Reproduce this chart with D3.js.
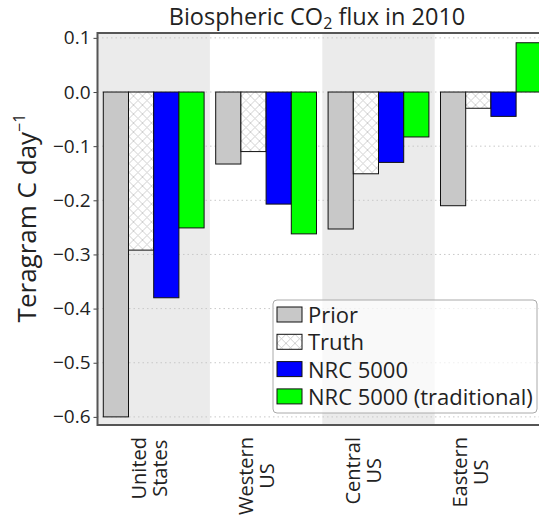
<!DOCTYPE html>
<html>
<head>
<meta charset="utf-8">
<script src="https://cdn.jsdelivr.net/npm/d3@7"></script>
<style>
  body { margin: 0; background: #fff; }
  text { font-family: "Open Sans", sans-serif; fill: #222; }
</style>
</head>
<body>
<div class="chart"></div>
<script>
var svgWidth = 539;
var svgHeight = 519;

// plot box (right side runs past the window, as in the original)
var margin = { top: 33, left: 97.5 };
var width = 449.6;
var height = 392;

// data
var regions = ["United States", "Western US", "Central US", "Eastern US"];
var regionLines = [["United", "States"], ["Western", "US"], ["Central", "US"], ["Eastern", "US"]];
var series = ["Prior", "Truth", "NRC 5000", "NRC 5000 (traditional)"];
var prior = [-0.600, -0.133, -0.253, -0.210];
var truth = [-0.292, -0.110, -0.151, -0.030];
var nrc = [-0.380, -0.207, -0.130, -0.045];
var nrcTrad = [-0.251, -0.262, -0.083, 0.091];
var yTicks = [0.1, 0.0, -0.1, -0.2, -0.3, -0.4, -0.5, -0.6];

var seriesValues = [prior, truth, nrc, nrcTrad];
var fills = ["#c8c8c8", "url(#xhatch)", "#0000ff", "#00ff00"];

var svg = d3.select(".chart")
  .append("svg")
  .attr("width", svgWidth)
  .attr("height", svgHeight);

// crosshatch for the Truth bars
var pat = svg.append("defs").append("pattern")
  .attr("id", "xhatch")
  .attr("patternUnits", "userSpaceOnUse")
  .attr("width", 9)
  .attr("height", 9);
pat.append("rect").attr("width", 9).attr("height", 9).attr("fill", "#fff");
pat.append("path")
  .attr("d", "M0,0L9,9M9,0L0,9")
  .attr("stroke", "#c4c4c4")
  .attr("stroke-width", 0.8);

var chartGroup = svg.append("g")
  .attr("transform", `translate(${margin.left}, ${margin.top})`);

var x0 = d3.scaleBand()
  .domain(regions)
  .range([0, width]);

var x1 = d3.scaleBand()
  .domain(series)
  .range([0, x0.bandwidth()])
  .paddingOuter(0.23);

var yScale = d3.scaleLinear()
  .domain([-0.615, 0.109])
  .range([height, 0]);

// alternating shaded bands
chartGroup.selectAll(".band")
  .data(regions)
  .enter()
  .append("rect")
  .attr("x", d => x0(d))
  .attr("y", 0)
  .attr("width", x0.bandwidth())
  .attr("height", height)
  .attr("fill", (d, i) => i % 2 === 0 ? "#ebebeb" : "none");

// dotted grid
chartGroup.selectAll(".grid")
  .data(yTicks)
  .enter()
  .append("line")
  .attr("x1", 0)
  .attr("x2", width)
  .attr("y1", d => yScale(d))
  .attr("y2", d => yScale(d))
  .attr("stroke", "#c8c8c8")
  .attr("stroke-width", 1)
  .attr("stroke-dasharray", "1.5,3");

// bars
var rows = [];
regions.forEach(function(r, i) {
  series.forEach(function(s, j) {
    rows.push({ region: r, key: s, idx: j, value: seriesValues[j][i] });
  });
});

chartGroup.selectAll(".bar")
  .data(rows)
  .enter()
  .append("rect")
  .attr("x", d => x0(d.region) + x1(d.key))
  .attr("y", d => yScale(Math.max(0, d.value)))
  .attr("width", x1.bandwidth())
  .attr("height", d => Math.abs(yScale(d.value) - yScale(0)))
  .attr("fill", d => fills[d.idx])
  .attr("stroke", "#111")
  .attr("stroke-width", 1);

// y axis
var leftAxis = d3.axisLeft(yScale)
  .tickValues(yTicks)
  .tickSize(4)
  .tickPadding(3)
  .tickFormat(d3.format(".1f"));

var yAxis = chartGroup.append("g").call(leftAxis);
yAxis.select(".domain").remove();
yAxis.selectAll("line").attr("stroke", "#444");
yAxis.selectAll("text")
  .attr("font-size", "19px")
  .attr("font-family", "'Open Sans', sans-serif")
  .attr("fill", "#222");

// frame
chartGroup.append("rect")
  .attr("x", 0)
  .attr("y", 0)
  .attr("width", width)
  .attr("height", height)
  .attr("fill", "none")
  .attr("stroke", "#555")
  .attr("stroke-width", 2);

// x labels: two rotated lines each
var labelX = d3.scaleLinear()
  .domain([0, regions.length - 1])
  .range([x0(regions[0]) + x0.bandwidth() / 2 - 4,
          x0(regions[3]) + x0.bandwidth() / 2 - 20.5]);

regionLines.forEach(function(lines, i) {
  var g = chartGroup.append("g");
  var texts = lines.map(function(t, k) {
    return g.append("text")
      .attr("font-size", "20px")
      .attr("text-anchor", "middle")
      .text(t);
  });
  var maxLen = d3.max(texts, t => t.node().getComputedTextLength());
  var cy = height + 12 + maxLen / 2;
  texts.forEach(function(t, k) {
    var cx = labelX(i) + (k - 0.5) * 21 + 7;
    t.attr("transform", `translate(${cx}, ${cy}) rotate(-90)`);
  });
});

// y label
svg.append("text")
  .attr("transform", "translate(36, 218) rotate(-90)")
  .attr("text-anchor", "middle")
  .attr("font-size", "26px")
  .html("Teragram C day<tspan dy='-11' font-size='16px'>\u22121</tspan>");

// title
svg.append("text")
  .attr("x", 317)
  .attr("y", 25)
  .attr("text-anchor", "middle")
  .attr("font-size", "23.5px")
  .html("Biospheric CO<tspan dy='4' font-size='16px'>2</tspan><tspan dy='-4'> flux in 2010</tspan>");

// legend
var legend = svg.append("g")
  .attr("transform", "translate(273, 300)");

legend.append("rect")
  .attr("width", 264)
  .attr("height", 113)
  .attr("rx", 4)
  .attr("fill", "#fff")
  .attr("fill-opacity", 0.7)
  .attr("stroke", "#aaa")
  .attr("stroke-width", 1);

var items = legend.selectAll(".item")
  .data(series)
  .enter()
  .append("g")
  .attr("transform", (d, i) => `translate(4, ${7 + i * 27.3})`);

items.append("rect")
  .attr("width", 25)
  .attr("height", 15)
  .attr("fill", (d, i) => fills[i])
  .attr("stroke", "#111")
  .attr("stroke-width", 1);

items.append("text")
  .attr("x", 31)
  .attr("y", 16)
  .attr("font-size", "22px")
  .text(d => d);
</script>
</body>
</html>
